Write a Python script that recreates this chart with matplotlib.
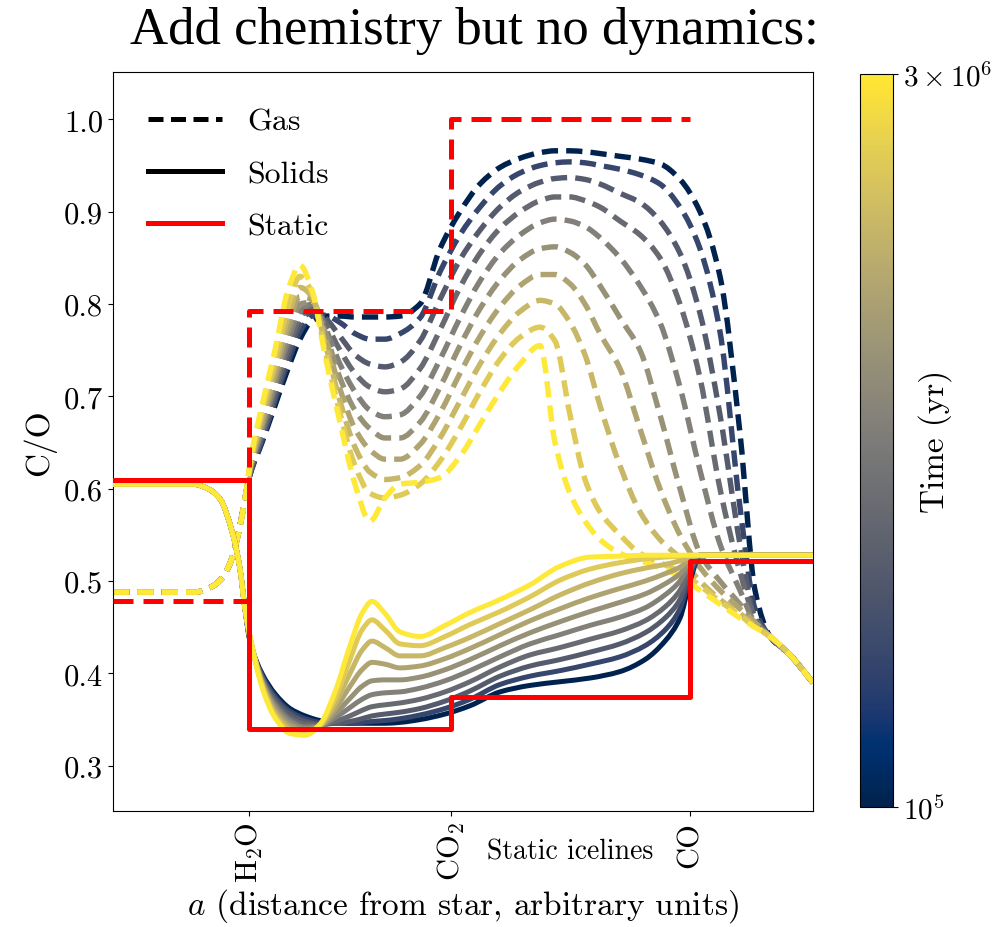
import numpy as np
import matplotlib
matplotlib.use("Agg")
import matplotlib.pyplot as plt
from matplotlib.colors import LogNorm
from matplotlib.cm import ScalarMappable
from matplotlib.lines import Line2D
from matplotlib.path import Path
from matplotlib.patches import PathPatch

plt.rcParams['font.family'] = 'serif'
plt.rcParams['font.serif'] = ['cmr10']
plt.rcParams['mathtext.fontset'] = 'cm'
plt.rcParams['axes.unicode_minus'] = False

# static icelines, arbitrary units
x_h2o = 1.36
x_co2 = 3.38
x_co = 5.77
x_max = 7.0

# snapshot times (yr)
times = [1e5, 2e5, 3e5, 4e5, 6e5, 8e5, 1.1e6, 1.5e6, 2e6, 3e6]

# static (no chemistry) C/O
static_gas_edges = [0.0, x_h2o, x_co2, x_co]
static_gas = [0.478, 0.792, 1.0]
static_solid_edges = [0.0, x_h2o, x_co2, x_co, x_max]
static_solid = [0.61, 0.34, 0.375, 0.522]

# gas C/O, inside the water line (same for every snapshot)
gas_in_x = [0.0, 0.82, 0.97, 1.09, 1.19, 1.27, 1.33]
gas_in = [0.488, 0.488, 0.493, 0.503, 0.525, 0.56, 0.595]

gas_x = [1.37, 1.49, 1.62, 1.75, 1.87, 1.99, 2.12, 2.27, 2.42, 2.57, 2.72, 2.87,
         3.07, 3.27, 3.47, 3.67, 3.87, 4.07, 4.27, 4.42, 4.57, 4.72, 4.87, 5.07,
         5.27, 5.47, 5.67, 5.87, 6.07, 6.27, 6.42, 6.57, 6.77, 7.0]
gas_co = [
    [0.615, 0.65, 0.69, 0.73, 0.762, 0.782, 0.787, 0.787, 0.786, 0.786, 0.786, 0.787,
     0.80, 0.86, 0.90, 0.93, 0.948, 0.958, 0.964, 0.966, 0.966, 0.965, 0.963, 0.96,
     0.957, 0.952, 0.935, 0.90, 0.83, 0.66, 0.49, 0.44, 0.42, 0.39],
    [0.615, 0.652, 0.695, 0.737, 0.77, 0.787, 0.788, 0.78, 0.768, 0.762, 0.762, 0.768,
     0.785, 0.835, 0.875, 0.905, 0.928, 0.942, 0.95, 0.953, 0.954, 0.953, 0.95, 0.946,
     0.94, 0.93, 0.905, 0.86, 0.77, 0.58, 0.47, 0.44, 0.42, 0.39],
    [0.617, 0.656, 0.70, 0.745, 0.778, 0.793, 0.785, 0.765, 0.745, 0.735, 0.732, 0.737,
     0.76, 0.805, 0.848, 0.88, 0.905, 0.922, 0.932, 0.936, 0.937, 0.935, 0.93, 0.92,
     0.91, 0.89, 0.855, 0.79, 0.68, 0.54, 0.46, 0.44, 0.42, 0.39],
    [0.618, 0.66, 0.706, 0.752, 0.785, 0.797, 0.78, 0.75, 0.725, 0.71, 0.705, 0.708,
     0.73, 0.772, 0.818, 0.855, 0.882, 0.90, 0.912, 0.916, 0.916, 0.912, 0.905, 0.89,
     0.875, 0.85, 0.80, 0.72, 0.60, 0.51, 0.46, 0.44, 0.42, 0.39],
    [0.62, 0.664, 0.712, 0.76, 0.792, 0.80, 0.775, 0.735, 0.705, 0.685, 0.678, 0.68,
     0.70, 0.74, 0.785, 0.825, 0.855, 0.875, 0.888, 0.892, 0.89, 0.884, 0.872, 0.85,
     0.82, 0.78, 0.71, 0.62, 0.54, 0.49, 0.455, 0.44, 0.42, 0.39],
    [0.62, 0.668, 0.718, 0.768, 0.80, 0.802, 0.77, 0.72, 0.685, 0.665, 0.655, 0.655,
     0.672, 0.71, 0.755, 0.795, 0.826, 0.848, 0.86, 0.862, 0.856, 0.843, 0.82, 0.785,
     0.75, 0.68, 0.60, 0.53, 0.50, 0.475, 0.455, 0.44, 0.42, 0.39],
    [0.622, 0.672, 0.724, 0.776, 0.808, 0.805, 0.765, 0.708, 0.665, 0.642, 0.632, 0.632,
     0.648, 0.682, 0.725, 0.765, 0.797, 0.82, 0.832, 0.832, 0.822, 0.80, 0.768, 0.73,
     0.665, 0.60, 0.55, 0.515, 0.49, 0.47, 0.455, 0.44, 0.42, 0.39],
    [0.624, 0.678, 0.732, 0.786, 0.818, 0.808, 0.758, 0.695, 0.645, 0.618, 0.61, 0.612,
     0.625, 0.655, 0.695, 0.735, 0.768, 0.792, 0.804, 0.80, 0.78, 0.745, 0.69, 0.625,
     0.575, 0.545, 0.525, 0.50, 0.48, 0.465, 0.452, 0.44, 0.42, 0.39],
    [0.626, 0.683, 0.74, 0.797, 0.83, 0.812, 0.75, 0.682, 0.625, 0.595, 0.59, 0.593,
     0.605, 0.63, 0.665, 0.705, 0.74, 0.764, 0.775, 0.76, 0.68, 0.61, 0.575, 0.55,
     0.53, 0.52, 0.51, 0.495, 0.478, 0.463, 0.45, 0.44, 0.42, 0.39],
    [0.628, 0.69, 0.75, 0.815, 0.842, 0.815, 0.745, 0.672, 0.605, 0.565, 0.59, 0.605,
     0.607, 0.612, 0.635, 0.67, 0.705, 0.735, 0.755, 0.65, 0.595, 0.565, 0.545, 0.53,
     0.522, 0.515, 0.505, 0.49, 0.475, 0.46, 0.45, 0.44, 0.42, 0.39],
]

# solid C/O, inside the water line (same for every snapshot)
solid_in_x = [0.0, 0.80, 0.95, 1.07, 1.20, 1.27, 1.32]
solid_in = [0.605, 0.605, 0.60, 0.589, 0.55, 0.513, 0.47]

solid_x = [1.37, 1.49, 1.62, 1.77, 1.92, 2.07, 2.22, 2.37, 2.49, 2.59, 2.72, 2.87,
           3.07, 3.32, 3.57, 3.87, 4.17, 4.47, 4.77, 5.07, 5.32, 5.52, 5.67, 5.77,
           5.87, 7.0]
solid_co = [
    [0.435, 0.40, 0.378, 0.362, 0.354, 0.349, 0.347, 0.346, 0.346, 0.346, 0.346, 0.347,
     0.35, 0.356, 0.365, 0.38, 0.387, 0.391, 0.395, 0.402, 0.415, 0.435, 0.46, 0.50, 0.528, 0.528],
    [0.435, 0.398, 0.375, 0.359, 0.351, 0.347, 0.346, 0.346, 0.347, 0.348, 0.349, 0.351,
     0.355, 0.362, 0.372, 0.388, 0.397, 0.403, 0.41, 0.418, 0.43, 0.447, 0.47, 0.505, 0.528, 0.528],
    [0.436, 0.396, 0.372, 0.356, 0.348, 0.345, 0.346, 0.348, 0.351, 0.354, 0.356, 0.358,
     0.362, 0.37, 0.381, 0.397, 0.408, 0.415, 0.423, 0.432, 0.444, 0.46, 0.48, 0.51, 0.528, 0.528],
    [0.437, 0.395, 0.369, 0.352, 0.345, 0.344, 0.348, 0.354, 0.36, 0.364, 0.366, 0.368,
     0.372, 0.38, 0.391, 0.407, 0.42, 0.428, 0.437, 0.446, 0.457, 0.472, 0.49, 0.514, 0.528, 0.528],
    [0.437, 0.393, 0.366, 0.349, 0.342, 0.343, 0.352, 0.363, 0.372, 0.377, 0.379, 0.38,
     0.384, 0.392, 0.403, 0.418, 0.432, 0.442, 0.452, 0.461, 0.471, 0.485, 0.50, 0.518, 0.528, 0.528],
    [0.438, 0.392, 0.363, 0.346, 0.34, 0.343, 0.356, 0.373, 0.386, 0.392, 0.393, 0.393,
     0.396, 0.404, 0.415, 0.43, 0.444, 0.456, 0.467, 0.477, 0.486, 0.497, 0.508, 0.521, 0.528, 0.528],
    [0.438, 0.39, 0.36, 0.343, 0.338, 0.343, 0.361, 0.386, 0.404, 0.412, 0.41, 0.406,
     0.408, 0.416, 0.427, 0.442, 0.457, 0.47, 0.482, 0.492, 0.50, 0.508, 0.515, 0.524, 0.528, 0.528],
    [0.439, 0.389, 0.357, 0.34, 0.336, 0.344, 0.367, 0.40, 0.425, 0.435, 0.428, 0.419,
     0.419, 0.428, 0.439, 0.454, 0.469, 0.485, 0.498, 0.508, 0.514, 0.518, 0.522, 0.526, 0.528, 0.528],
    [0.44, 0.387, 0.354, 0.337, 0.334, 0.344, 0.373, 0.415, 0.447, 0.458, 0.447, 0.432,
     0.43, 0.44, 0.453, 0.467, 0.483, 0.501, 0.513, 0.52, 0.524, 0.526, 0.527, 0.528, 0.528, 0.528],
    [0.44, 0.385, 0.352, 0.335, 0.333, 0.345, 0.38, 0.43, 0.465, 0.478, 0.465, 0.445,
     0.44, 0.452, 0.466, 0.48, 0.496, 0.516, 0.526, 0.527, 0.528, 0.528, 0.528, 0.528, 0.528, 0.528],
]


def smooth_path(x, y):
    # draw the read points as one smooth curve (pchip-style Bezier segments)
    x = np.asarray(x, float)
    y = np.asarray(y, float)
    h = np.diff(x)
    d = np.diff(y) / h
    m = np.zeros_like(y)
    m[0], m[-1] = d[0], d[-1]
    for i in range(1, len(x) - 1):
        if d[i - 1] * d[i] > 0:
            w1 = 2 * h[i] + h[i - 1]
            w2 = h[i] + 2 * h[i - 1]
            m[i] = (w1 + w2) / (w1 / d[i - 1] + w2 / d[i])
    verts = [(x[0], y[0])]
    codes = [Path.MOVETO]
    for i in range(len(x) - 1):
        verts += [(x[i] + h[i] / 3, y[i] + m[i] * h[i] / 3),
                  (x[i + 1] - h[i] / 3, y[i + 1] - m[i + 1] * h[i] / 3),
                  (x[i + 1], y[i + 1])]
        codes += [Path.CURVE4] * 3
    return Path(verts, codes)


cmap = plt.get_cmap('cividis')
norm = LogNorm(vmin=1e5, vmax=3e6)

fig = plt.figure(figsize=(10, 9.28), dpi=100)
ax = fig.add_axes([0.113, 0.125, 0.70, 0.796])
cax = fig.add_axes([0.86, 0.129, 0.033, 0.79])

for k, t in enumerate(times):
    p = smooth_path(gas_in_x + gas_x, gas_in + gas_co[k])
    ax.add_patch(PathPatch(p, fill=False, edgecolor=cmap(norm(t)), lw=3.9,
                           ls=(0, (3, 1.5)), zorder=2))

for k, t in enumerate(times):
    p = smooth_path(solid_in_x + solid_x, solid_in + solid_co[k])
    ax.add_patch(PathPatch(p, fill=False, edgecolor=cmap(norm(t)), lw=3.6,
                           joinstyle='round', zorder=3))

ax.step(static_gas_edges, static_gas + [static_gas[-1]], where='post',
        color='red', lw=3.6, ls=(0, (4, 2)), zorder=4)
ax.step(static_solid_edges, static_solid + [static_solid[-1]], where='post',
        color='red', lw=3.6, zorder=4)

ax.set_xlim(0, x_max)
ax.set_ylim(0.251, 1.051)
ax.set_yticks(np.arange(0.3, 1.01, 0.1))
ax.set_yticklabels(['%.1f' % v for v in np.arange(0.3, 1.01, 0.1)], fontsize=22)
ax.set_xticks([x_h2o, x_co2, x_co])
ax.set_xticklabels([r'H$_2$O', r'CO$_2$', 'CO'], rotation=90, fontsize=22)
ax.set_ylabel('C/O', fontsize=24, labelpad=6)
ax.set_xlabel(r'$a$ (distance from star, arbitrary units)', fontsize=24, labelpad=3)
fig.text(0.570, 0.082, 'Static icelines', fontsize=20, ha='center', va='center')

handles = [Line2D([], [], color='black', lw=3.6, ls=(0, (3, 1.5))),
           Line2D([], [], color='black', lw=3.6),
           Line2D([], [], color='red', lw=3.6)]
ax.legend(handles, ['Gas', 'Solids', 'Static'], loc='upper left', frameon=False,
          fontsize=23, handlelength=2.3, handletextpad=0.8, labelspacing=0.75,
          borderaxespad=0.7)

cbar = fig.colorbar(ScalarMappable(norm=norm, cmap=cmap), cax=cax)
cbar.ax.minorticks_off()
cbar.set_ticks([1e5, 3e6])
cbar.set_ticklabels([r'$10^5$', r'$3\times10^6$'], fontsize=21)
cbar.set_label('Time (yr)', fontsize=24)
cbar.ax.yaxis.set_label_coords(1.76, 0.5)

fig.text(0.474, 0.967, 'Add chemistry but no dynamics:', fontsize=38,
         family='Liberation Serif', ha='center', va='center')

fig.savefig('out.png', dpi=100)
